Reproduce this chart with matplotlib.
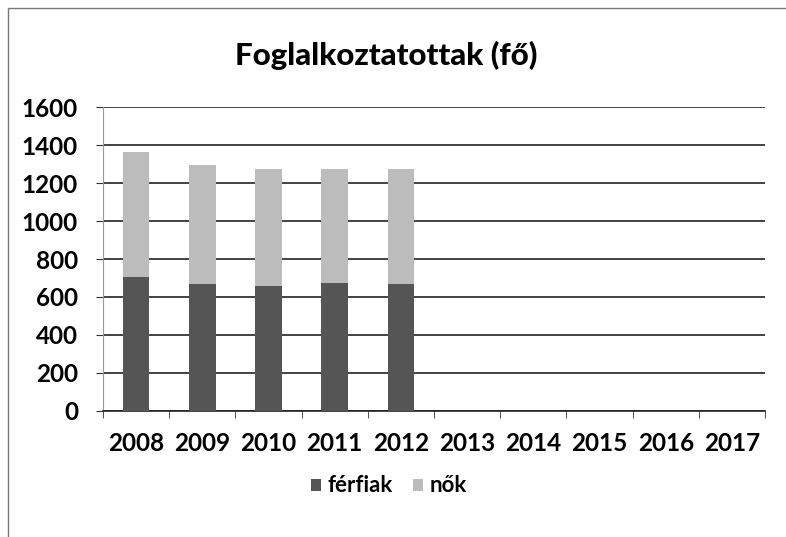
import matplotlib.pyplot as plt
from matplotlib.patches import Rectangle

years = ['2008', '2009', '2010', '2011', '2012', '2013', '2014', '2015', '2016', '2017']
ferfiak = [705, 670, 660, 675, 668]
nok = [660, 625, 615, 600, 605]

plt.rcParams['font.family'] = ['Lato', 'DejaVu Sans']

fig = plt.figure(figsize=(7.86, 5.37), dpi=100)
ax = fig.add_axes([103 / 786, 1 - 411 / 537, 662 / 786, 304 / 537])

x = list(range(len(ferfiak)))
ax.bar(x, ferfiak, width=0.4, color='#555555', label='férfiak', zorder=3)
ax.bar(x, nok, width=0.4, bottom=ferfiak, color='#bcbcbc', label='nők', zorder=3)

ax.set_xlim(-0.5, len(years) - 0.5)
ax.set_ylim(0, 1600)
ax.set_yticks(range(0, 1601, 200))
ax.set_xticks(range(len(years)))
ax.set_xticklabels(years)
ax.set_xticks([i - 0.5 for i in range(len(years) + 1)], minor=True)
ax.tick_params(axis='x', which='major', length=0, pad=15, labelsize=17.5)
ax.tick_params(axis='x', which='minor', length=5, color='#333333')
ax.tick_params(axis='y', length=5, color='#333333', pad=13, labelsize=17.5)
for lab in ax.get_xticklabels() + ax.get_yticklabels():
    lab.set_fontweight('bold')

ax.grid(axis='y', color='#222222', linewidth=1.2, zorder=0)
for side in ['top', 'right']:
    ax.spines[side].set_visible(False)
ax.spines['left'].set_color('#999999')
ax.spines['bottom'].set_color('#222222')
ax.spines['bottom'].set_linewidth(1.2)

fig.text(386 / 786, 1 - 55 / 537, 'Foglalkoztatottak (fő)',
         ha='center', va='center', fontsize=22.5, fontweight='black')

fig.legend(loc='center', bbox_to_anchor=(389 / 786, 1 - 486 / 537), ncol=2, frameon=False,
           handlelength=0.45, handleheight=0.45, handletextpad=0.3,
           columnspacing=0.9, prop={'weight': 'bold', 'size': 16})

fig.patches.append(Rectangle((8 / 786, -0.1), 1.2, 1 - 8 / 537 + 0.1, transform=fig.transFigure,
                             fill=False, edgecolor='#777777', linewidth=1))

fig.savefig('out.png', dpi=100)
